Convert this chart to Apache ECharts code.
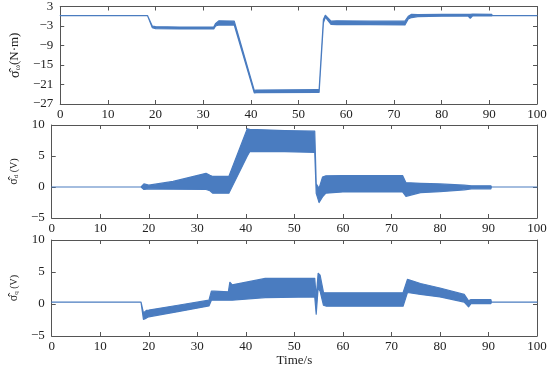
<!DOCTYPE html>
<html><head><meta charset="utf-8">
<script src="https://cdn.jsdelivr.net/npm/echarts@6/dist/echarts.min.js"></script>
<style>html,body{margin:0;padding:0;background:#fff}#c{width:550px;height:368px}</style>
</head><body><div id="c"></div>
<script>
// ---- data ----
const xTicks = [0,10,20,30,40,50,60,70,80,90,100];
const yTicks1 = [-27,-21,-15,-9,-3,3];
const yTicks23 = [-5,0,5,10];

// panel 1: sigma_omega (N·m), lower / upper envelope
const t1  = [0, 18.3, 19.3, 20, 25, 32.2, 32.6, 33.3, 36.5, 40.7, 41.2, 54.0, 54.3, 55.2, 55.6, 56.8, 58, 65, 72.3, 73.0, 73.7, 75, 80, 85.5, 86, 86.5, 90.5, 90.6, 100];
const lo1 = [0.2, 0.2, -3.5, -3.8, -3.9, -3.9, -3.0, -2.7, -2.7, -23.6, -23.5, -23.4, -23.4, -2.0, -0.3, -2.5, -2.6, -2.6, -2.7, -0.8, -0.4, -0.1, 0.0, 0.1, -0.6, 0.1, 0.1, 0.2, 0.2];
const hi1 = [0.2, 0.2, -3.0, -3.2, -3.3, -3.3, -2.2, -1.4, -1.5, -22.8, -22.7, -22.6, -22.6, -1.0, 0.3, -1.5, -1.4, -1.5, -1.5, 0.0, 0.6, 0.5, 0.6, 0.6, 0.6, 0.7, 0.6, 0.2, 0.2];

// panel 2: sigma_d (V)
const t2  = [0, 18.4, 19.0, 20, 25, 31.8, 32.6, 33.2, 36.5, 40.3, 40.8, 48, 54.2, 54.5, 55.1, 55.8, 56.5, 60, 72.3, 73.0, 76, 80, 85, 86.5, 90.5, 90.6, 100];
const lo2 = [0, 0, -0.4, -0.3, -0.35, -0.4, -0.6, -1.0, -1.0, 5.0, 5.7, 5.7, 5.6, -1.0, -2.5, -1.6, -1.0, -0.8, -0.8, -1.5, -0.9, -0.75, -0.45, -0.3, -0.3, 0, 0];
const hi2 = [0, 0, 0.5, 0.3, 0.9, 2.2, 1.9, 1.7, 1.7, 9.4, 9.3, 9.1, 9.0, 0.5, -0.2, 1.6, 1.8, 1.85, 1.85, 0.7, 0.6, 0.5, 0.3, 0.2, 0.2, 0, 0];

// panel 3: sigma_q (V)
const t3  = [0, 18.4, 18.9, 19.5, 20, 26, 32.4, 32.9, 33.5, 36.4, 36.7, 37.2, 44, 54.2, 54.5, 54.9, 55.3, 56.0, 56.6, 60, 72.4, 73.3, 76, 80, 85, 85.9, 86.4, 90.5, 90.6, 100];
const lo3 = [0.3, 0.3, -2.4, -2.2, -2.0, -1.2, -0.3, 0.6, 0.6, 0.6, 0.6, 0.6, 1.0, 1.1, -1.6, 2.5, 2.0, -0.2, -0.35, -0.35, -0.35, 1.8, 1.5, 1.1, 0.3, -0.45, 0.05, 0.05, 0.3, 0.3];
const hi3 = [0.3, 0.3, -1.4, -1.0, -0.95, -0.2, 0.6, 2.0, 2.0, 1.9, 3.4, 3.0, 4.0, 4.0, 1.0, 4.8, 4.5, 1.8, 1.75, 1.75, 1.75, 3.85, 3.2, 2.5, 1.5, 0.5, 0.7, 0.7, 0.3, 0.3];

// ---- chart ----
const BLUE = '#4a7cc0';
const AX = '#555';
const FONT = '"Liberation Serif", "Times New Roman", serif';
const minus = v => String(v).replace('-', '\u2212');

const grids = [
  {left: 47, width: 490, top: 6, height: 98},
  {left: 47, width: 490, top: 125, height: 93},
  {left: 47, width: 490, top: 240, height: 96}
];

const xAxis = [], yAxis = [], series = [];
const panels = [
  {t: t1, lo: lo1, hi: hi1, min: -27, max: 3, ticks: yTicks1,
   name: '{a|σ̂}{b|ω}{c|(N·m)}', gap: 24, big: true},
  {t: t2, lo: lo2, hi: hi2, min: -5, max: 10, ticks: yTicks23,
   name: '{a|σ̂}{b|d}{c| (V)}', gap: 30, big: false},
  {t: t3, lo: lo3, hi: hi3, min: -5, max: 10, ticks: yTicks23,
   name: '{a|σ̂}{b|q}{c| (V)}', gap: 30, big: false}
];

panels.forEach((p, i) => {
  const common = {
    axisLine: {show: true, onZero: false, lineStyle: {color: AX, width: 1}},
    splitLine: {show: false}
  };
  const tick = vals => ({show: true, inside: true, length: 4, lineStyle: {color: AX}, customValues: vals});
  xAxis.push(Object.assign({
    type: 'value', gridIndex: i, min: 0, max: 100, position: 'bottom',
    axisTick: tick(xTicks),
    axisLabel: {show: true, customValues: xTicks, margin: 4, fontFamily: FONT, fontSize: 13, color: '#222'},
    name: i === 2 ? 'Time/s' : '', nameLocation: 'middle', nameGap: 16,
    nameTextStyle: {fontFamily: FONT, fontSize: 13, color: '#222'}
  }, common));
  xAxis.push(Object.assign({
    type: 'value', gridIndex: i, min: 0, max: 100, position: 'top',
    axisTick: tick(xTicks), axisLabel: {show: false}
  }, common));
  const rich = p.big
    ? {a: {fontFamily: FONT, fontSize: 14, color: '#222'},
       b: {fontFamily: FONT, fontSize: 8, color: '#222', verticalAlign: 'bottom', padding: [5, 0, 0, 0]},
       c: {fontFamily: FONT, fontSize: 13, color: '#222'}}
    : {a: {fontFamily: FONT, fontSize: 12, color: '#222'},
       b: {fontFamily: FONT, fontSize: 7, color: '#222', verticalAlign: 'bottom', padding: [5, 0, 0, 0]},
       c: {fontFamily: FONT, fontSize: 10, color: '#222'}};
  yAxis.push(Object.assign({
    type: 'value', gridIndex: i, min: p.min, max: p.max, position: 'left',
    axisTick: tick(p.ticks),
    axisLabel: {show: true, customValues: p.ticks, formatter: minus, margin: 7, fontFamily: FONT, fontSize: 13, color: '#222'},
    name: p.name, nameLocation: 'middle', nameGap: p.gap,
    nameTextStyle: {fontFamily: FONT, fontSize: 13, color: '#222', rich: rich}
  }, common));
  yAxis.push(Object.assign({
    type: 'value', gridIndex: i, min: p.min, max: p.max, position: 'right',
    axisTick: tick(p.ticks), axisLabel: {show: false}
  }, common));

  // band between lower and upper envelope, positioned through the axes
  series.push({
    type: 'custom', xAxisIndex: 2 * i, yAxisIndex: 2 * i, silent: true,
    data: [[p.t[0], p.lo[0]]],
    renderItem: function (params, api) {
      const pts = [];
      for (let k = 0; k < p.t.length; k++) pts.push(api.coord([p.t[k], p.hi[k]]));
      for (let k = p.t.length - 1; k >= 0; k--) pts.push(api.coord([p.t[k], p.lo[k]]));
      return {
        type: 'polygon',
        shape: {points: pts},
        style: {fill: BLUE, stroke: BLUE, lineWidth: 1.2, lineJoin: 'round'}
      };
    }
  });
});

const chart = echarts.init(document.getElementById('c'), null, {renderer: 'canvas'});
chart.setOption({animation: false, backgroundColor: '#fff', grid: grids, xAxis, yAxis, series});
</script>
</body></html>
